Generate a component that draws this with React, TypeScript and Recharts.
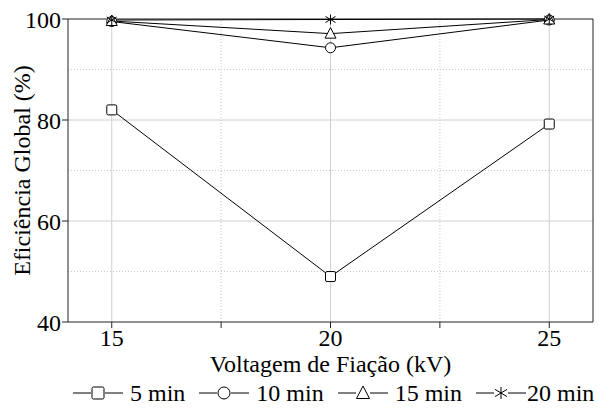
import React from 'react';
import { LineChart, Line, XAxis, YAxis, ReferenceLine } from 'recharts';

const voltages = [15, 20, 25];
const series5 = [82, 49, 79.2];
const series10 = [99.5, 94.3, 99.8];
const series15 = [99.6, 97.1, 99.9];
const series20 = [99.8, 99.9, 100];
const seriesNames = ['5 min', '10 min', '15 min', '20 min'];
const seriesShapes = ['square', 'circle', 'triangle', 'star'];
const xTicks = [15, 17.5, 20, 22.5, 25];
const xMajor = [15, 20, 25];
const xMinor = [17.5, 22.5];
const yTicks = [40, 60, 80, 100];
const yMajor = [60, 80];
const yMinor = [50, 70, 90];

const data = voltages.map((v, i) => ({
  v,
  s5: series5[i],
  s10: series10[i],
  s15: series15[i],
  s20: series20[i],
}));
const keys = ['s5', 's10', 's15', 's20'];

const FONT = 'Liberation Serif, DejaVu Serif, serif';
const FS = 24;

function MarkerShape({ shape, cx, cy, s = 5 }: { shape: string; cx: number; cy: number; s?: number }) {
  const st = { stroke: '#000', strokeWidth: 1, fill: '#fff' };
  if (shape === 'square') return <rect x={cx - s} y={cy - s} width={2 * s} height={2 * s} rx={1.5} {...st} />;
  if (shape === 'circle') return <circle cx={cx} cy={cy} r={s} {...st} />;
  if (shape === 'triangle')
    return <polygon points={`${cx},${cy - s - 1} ${cx + s + 0.5},${cy + s - 0.5} ${cx - s - 0.5},${cy + s - 0.5}`} {...st} />;
  return (
    <g stroke="#000" strokeWidth={1}>
      <line x1={cx} y1={cy - s} x2={cx} y2={cy + s} />
      <line x1={cx - s} y1={cy - s * 0.6} x2={cx + s} y2={cy + s * 0.6} />
      <line x1={cx - s} y1={cy + s * 0.6} x2={cx + s} y2={cy - s * 0.6} />
    </g>
  );
}

const makeDot = (shape: string) => (props: any) => {
  const { cx, cy, index } = props;
  if (cx == null || cy == null) return <g key={index} />;
  return <MarkerShape key={index} shape={shape} cx={cx} cy={cy} />;
};

const YLabel = (props: any) => {
  const vb = props.viewBox || {};
  const cy = (vb.y || 0) + (vb.height || 0) / 2;
  const cx = 22;
  return (
    <text
      x={cx}
      y={cy}
      transform={`rotate(-90, ${cx}, ${cy})`}
      textAnchor="middle"
      dominantBaseline="central"
      fill="#000"
      fontSize={FS}
      fontFamily={FONT}
    >
      Eficiência Global (%)
    </text>
  );
};

export default function App() {
  return (
    <div style={{ position: 'absolute', left: 0, top: 0, width: 598, height: 412, background: '#fff', fontFamily: FONT }}>
      <LineChart width={598} height={412} data={data} margin={{ top: 19, right: 5, left: 20, bottom: 30 }}>
        {xMinor.map((x) => (
          <ReferenceLine key={'xm' + x} x={x} stroke="#c8c8c8" strokeDasharray="1 2" />
        ))}
        {yMinor.map((y) => (
          <ReferenceLine key={'ym' + y} y={y} stroke="#c8c8c8" strokeDasharray="1 2" />
        ))}
        {xMajor.map((x) => (
          <ReferenceLine key={'xM' + x} x={x} stroke="#d0d0d0" />
        ))}
        {yMajor.map((y) => (
          <ReferenceLine key={'yM' + y} y={y} stroke="#d0d0d0" />
        ))}
        <ReferenceLine y={100} stroke="#222" />
        <ReferenceLine x={26} stroke="#222" />
        <XAxis
          dataKey="v"
          type="number"
          domain={[14, 26]}
          ticks={xTicks}
          tickFormatter={(t: number) => (Number.isInteger(t) ? String(t) : '')}
          height={60}
          stroke="#222"
          tickSize={6}
          tickMargin={1}
          tick={{ fill: '#000', fontSize: FS, fontFamily: FONT }}
          allowDataOverflow
          label={{ value: 'Voltagem de Fiação (kV)', position: 'insideBottom', offset: 10, fill: '#000', fontSize: FS, fontFamily: FONT }}
        />
        <YAxis
          type="number"
          domain={[40, 100]}
          ticks={yTicks}
          width={48}
          stroke="#222"
          tickSize={6}
          tickMargin={1}
          tick={{ fill: '#000', fontSize: FS, fontFamily: FONT }}
          label={<YLabel />}
        />
        {keys.map((k, i) => (
          <Line
            key={k}
            dataKey={k}
            stroke="#000"
            strokeWidth={1}
            isAnimationActive={false}
            dot={makeDot(seriesShapes[i])}
            activeDot={false}
          />
        ))}
      </LineChart>
      <div style={{ position: 'absolute', left: 73, top: 381, display: 'flex', alignItems: 'center', fontSize: FS, lineHeight: '24px', color: '#000', whiteSpace: 'nowrap', fontFamily: FONT }}>
        {seriesNames.map((n, i) => (
          <div key={n} style={{ display: 'flex', alignItems: 'center', marginRight: i < 3 ? 14 : 0 }}>
            <svg width={50} height={24}>
              <line x1={0} y1={12} x2={18} y2={12} stroke="#000" strokeWidth={1} />
              <line x1={32} y1={12} x2={50} y2={12} stroke="#000" strokeWidth={1} />
              <MarkerShape shape={seriesShapes[i]} cx={25} cy={12} s={6} />
            </svg>
            <span style={{ marginLeft: i < 3 ? 7 : 1 }}>{n}</span>
          </div>
        ))}
      </div>
    </div>
  );
}
